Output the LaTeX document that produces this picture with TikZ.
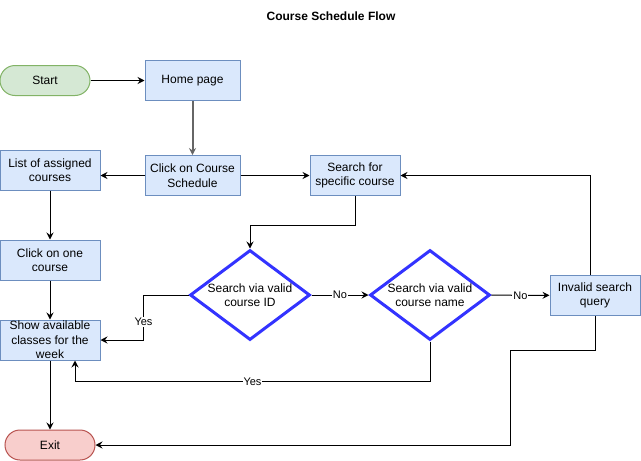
\documentclass[tikz,border=0pt]{standalone}
\usepackage{fontspec}
\setmainfont{Liberation Sans}
\usepackage{tikz}
\usetikzlibrary{arrows.meta, positioning, shapes.geometric}
\definecolor{boxfill}{HTML}{DAE8FC}
\definecolor{boxline}{HTML}{6C8EBF}
\definecolor{startfill}{HTML}{D5E8D4}
\definecolor{startline}{HTML}{82B366}
\definecolor{exitfill}{HTML}{F8CECC}
\definecolor{exitline}{HTML}{B85450}
\definecolor{askline}{HTML}{3333FF}
\definecolor{edgegray}{HTML}{666666}
\tikzset{
  >={Stealth[length=7pt, width=7pt, inset=2.5pt]},
  every node/.style={font=\fontsize{12}{14.5}\selectfont, align=center},
  box/.style={draw=boxline, fill=boxfill, line width=1pt, minimum width=95pt, minimum height=40pt, inner sep=0pt},
  pill/.style={rounded corners=15pt, line width=1pt, minimum width=90pt, minimum height=30pt, inner sep=0pt},
  ask/.style={diamond, draw=askline, fill=white, line width=3pt, shape aspect=1.333, minimum width=120pt, minimum height=90pt, inner sep=0pt},
  lbl/.style={font=\fontsize{11}{13}\selectfont, fill=white, inner sep=1pt},
  flow/.style={->, line width=1pt}
}

\begin{document}
\begin{tikzpicture}[x=1pt, y=-1pt]
\useasboundingbox[fill=white] (0, 0) rectangle (641, 461);
\node[font=\bfseries\fontsize{12}{14}\selectfont] (title) at (331, 16) {Course Schedule Flow};
% nodes
\node[pill, draw=startline, fill=startfill] (start) at (45, 80.5) {Start};
\node[box] (home) at (192.5, 80.5) {Home page};
\node[box] (ccs) at (192.5, 175.5) {Click on Course\\Schedule};
\node[box, minimum width=100pt] (list) at (50, 170) {List of assigned\\courses};
\node[box, minimum width=90pt] (search) at (355, 175.5) {Search for\\specific course};
\node[box, minimum width=100pt] (one) at (50, 260) {Click on one\\course};
\node[box, minimum width=100pt] (show) at (50, 340) {Show available\\classes for the\\week};
\node[ask] (byid) at (250, 295) {Search via valid\\course ID};
\node[ask] (byname) at (430, 295) {Search via valid\\course name};
\node[box, minimum width=90pt] (invalid) at (595, 295.5) {Invalid search\\query};
\node[pill, draw=exitline, fill=exitfill] (exit) at (50, 445) {Exit};
% connectors
\draw[flow] (start) -- (home);
\draw[flow, draw=edgegray, line width=2pt] (home) -- (ccs);
\draw[flow] (ccs.west) -- (ccs.west -| list.east);
\draw[flow] (ccs) -- (search);
\draw[flow] (list) -- (one);
\draw[flow] (one) -- (show);
\draw[flow] (show) -- (exit);
\draw[flow] (search.south) -- ++(0, 29.5) -| (byid.north);
\draw[flow] (byid.west) -- ++(-45, 0) |- node[pos=0.3, lbl] {Yes} (show.east);
\draw[flow] (byid) -- node[midway, lbl] {No} (byname);
\draw[flow] (byname) -- node[midway, lbl] {No} (invalid);
\draw[flow] (byname.south) -- ++(0, 40) -| node[pos=0.25, lbl] {Yes} ([xshift=25pt]show.south);
\draw[flow] ([xshift=-5pt]invalid.north) |- (search.east);
\draw[flow] (invalid.south) -- ++(0, 34.5) -- ++(-84.5, 0) |- (exit.east);
\end{tikzpicture}
\end{document}
